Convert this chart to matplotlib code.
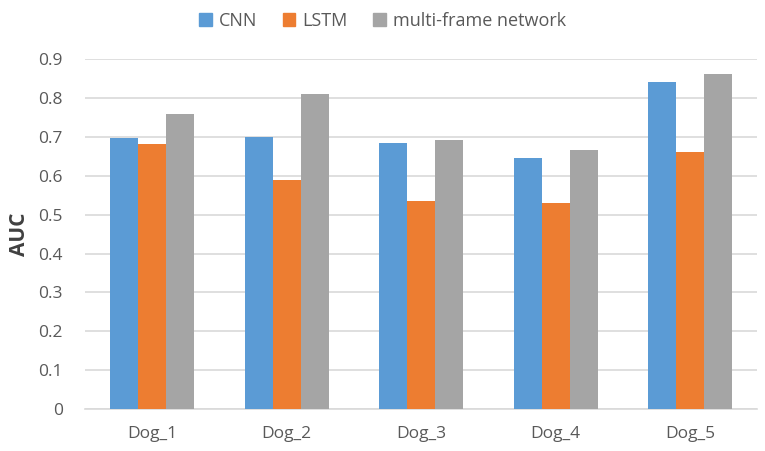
import numpy as np
import matplotlib.pyplot as plt
from matplotlib.patches import Patch

dogs = ["Dog_1", "Dog_2", "Dog_3", "Dog_4", "Dog_5"]
cnn = [0.698, 0.700, 0.685, 0.646, 0.841]
lstm = [0.682, 0.588, 0.534, 0.531, 0.661]
multi_frame = [0.758, 0.809, 0.692, 0.667, 0.861]
yticks = [0, 0.1, 0.2, 0.3, 0.4, 0.5, 0.6, 0.7, 0.8, 0.9]

plt.rcParams["font.family"] = ["Open Sans", "DejaVu Sans"]

fig = plt.figure(figsize=(7.65, 4.51), dpi=100)
ax = fig.add_axes([0.111, 0.093, 0.879, 0.776])

series = [
    ("CNN", cnn, "#5B9BD5"),
    ("LSTM", lstm, "#ED7D31"),
    ("multi-frame network", multi_frame, "#A5A5A5"),
]
x = np.arange(len(dogs))
w = 0.208
for i, (name, vals, col) in enumerate(series):
    ax.bar(x + (i - 1) * w, vals, w, color=col, label=name, zorder=3)

ax.set_xlim(-0.5, len(dogs) - 0.5)
ax.set_ylim(0, 0.9)
ax.set_yticks(yticks)
ax.set_yticklabels(["0"] + [f"{t:.1f}" for t in yticks[1:]])
ax.set_xticks(x)
ax.set_xticklabels(dogs)
ax.yaxis.grid(True, color="#D9D9D9", linewidth=1.2, zorder=0)
for s in ["top", "right", "left"]:
    ax.spines[s].set_visible(False)
ax.spines["bottom"].set_color("#D9D9D9")
ax.spines["bottom"].set_linewidth(1.2)
ax.tick_params(axis="both", length=0, labelsize=12.5, colors="#595959")
ax.tick_params(axis="y", pad=16)
ax.tick_params(axis="x", pad=12)
ax.set_ylabel("AUC", fontsize=15, fontweight="bold", color="#404040")
ax.yaxis.set_label_coords(-0.082, 0.5)

handles = [Patch(color=c, label=n) for n, _, c in series]
fig.legend(handles=handles, loc="upper center", bbox_to_anchor=(0.5, 1.01), ncol=3,
           frameon=False, fontsize=13, handlelength=0.7, handleheight=0.7,
           columnspacing=1.4, handletextpad=0.4, labelcolor="#595959")

fig.savefig("out.png", dpi=100)
